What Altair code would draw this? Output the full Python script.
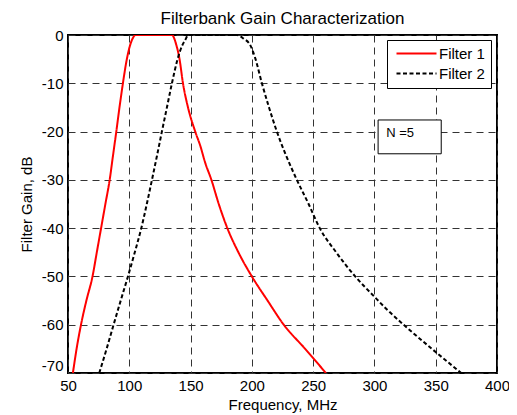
import altair as alt
import pandas as pd

# ---- data ----
series_names = ["Filter 1", "Filter 2"]

f1_freq = [54, 57, 60.6, 65, 70, 73.5, 77, 80.5, 84, 86.7, 89.4, 92, 94.8, 98, 100.8, 103, 105,
           135, 136.5, 138.3, 141, 143.8, 147.9, 153.8, 158, 162, 167, 173, 180, 189, 200,
           212.8, 226, 243.5, 260.4]
f1_gain = [-70, -65, -60, -55, -50, -45, -40, -35, -30, -25, -20, -15, -10, -5, -2, -0.6, 0,
           0, -0.6, -2, -5, -10, -15, -20, -23, -26.5, -30, -35, -40, -45, -50,
           -55, -60, -65, -70]

f2_freq = [75.5, 81.5, 87.2, 93, 98.9, 104.5, 109.8, 114.3, 118.5, 122.6, 126.6, 130.7, 134.8,
           139.4, 143.5, 145.7, 148, 188, 193, 198.7, 203, 208.2, 214, 220.4, 228, 236.7,
           246.3, 255.4, 268.8, 284.3, 300, 310, 323.8, 346.9, 370.8]
f2_gain = [-70, -65, -60, -55, -50, -45, -40, -35, -30, -25, -20, -15, -10,
           -5, -2, -1, 0, 0, -0.7, -2.1, -5, -10, -15, -20, -25, -30,
           -35, -40, -45, -50, -54.2, -56.8, -60, -65, -70]

x_ticks = [50, 100, 150, 200, 250, 300, 350, 400]
y_ticks = [0, -10, -20, -30, -40, -50, -60, -70]

note_text = ["N =5"]
note_box_x = [303, 354.5]
note_box_y = [-17.6, -24.6]
note_text_pos = [309.6, -20.3]

# ---- tables ----
rows = []
for name, fx, fy in [(series_names[0], f1_freq, f1_gain), (series_names[1], f2_freq, f2_gain)]:
    for i, (a, b) in enumerate(zip(fx, fy)):
        rows.append({"series": name, "freq": a, "gain": b, "order": i})
df = pd.DataFrame(rows)

note_df = pd.DataFrame({
    "x1": [note_box_x[0]], "x2": [note_box_x[1]],
    "y1": [note_box_y[0]], "y2": [note_box_y[1]],
    "tx": [note_text_pos[0]], "ty": [note_text_pos[1]],
    "label": note_text,
})

FONT = "Liberation Sans"

x_scale = alt.Scale(domain=[50, 400], nice=False, zero=False)
y_scale = alt.Scale(domain=[-70, 0], nice=False, zero=False)

x_axis = alt.Axis(values=x_ticks, grid=True, gridDash=[7, 5], gridColor="#333333", gridWidth=1,
                  domain=False, ticks=False, labelFlush=False, labelOverlap=False,
                  labelExpr="'' + datum.value",
                  labelFontSize=15, labelFont=FONT, labelColor="black", labelPadding=5,
                  title="Frequency, MHz", titleFontSize=15, titleFont=FONT,
                  titleFontWeight="normal", titleColor="black", titlePadding=4)
y_axis = alt.Axis(values=y_ticks, grid=True, gridDash=[7, 5], gridColor="#333333", gridWidth=1,
                  domain=False, ticks=False, labelFlush=False, labelOverlap=False,
                  labelExpr="'' + datum.value",
                  labelFontSize=15, labelFont=FONT, labelColor="black", labelPadding=5,
                  labelBaseline=alt.ExprRef(expr="datum.value == -70 ? 'bottom' : 'middle'"),
                  title="Filter Gain, dB", titleFontSize=15, titleFont=FONT,
                  titleFontWeight="normal", titleColor="black", titlePadding=7)

lines = alt.Chart(df).mark_line(strokeWidth=2, clip=True, interpolate="monotone").encode(
    x=alt.X("freq:Q", scale=x_scale, axis=x_axis),
    y=alt.Y("gain:Q", scale=y_scale, axis=y_axis),
    color=alt.Color("series:N", scale=alt.Scale(domain=series_names, range=["#ff0000", "#000000"]),
                    title=None),
    strokeDash=alt.StrokeDash("series:N",
                              scale=alt.Scale(domain=series_names, range=[[1, 0], [4, 2.5]]),
                              title=None),
    order="order:Q",
)

box = alt.Chart(note_df).mark_rect(fill="white", stroke="black", strokeWidth=1).encode(
    x="x1:Q", x2="x2:Q", y="y1:Q", y2="y2:Q"
)
txt = alt.Chart(note_df).mark_text(align="left", baseline="middle", fontSize=13, font=FONT,
                                   color="black").encode(
    x="tx:Q", y="ty:Q", text="label:N"
)

chart = alt.layer(lines, box, txt).properties(
    width=429, height=338,
    title=alt.TitleParams("Filterbank Gain Characterization", fontSize=17, font=FONT,
                          fontWeight="normal", color="black", anchor="middle", offset=0),
    autosize=alt.AutoSizeParams(type="none"),
    padding={"left": 60, "top": 27, "right": 12, "bottom": 46},
    background="white",
).configure_view(
    stroke="black", strokeWidth=2
).configure_legend(
    orient="none", legendX=319, legendY=5, strokeColor="black", fillColor="white",
    padding=6, symbolType="M-1,0H9", symbolSize=64, symbolStrokeWidth=1.8,
    labelOffset=31, labelFontSize=15, labelFont=FONT, labelColor="black", rowPadding=4,
    cornerRadius=0, labelLimit=200,
)

chart.save("out.html", embed_options={"renderer": "svg", "actions": False})
